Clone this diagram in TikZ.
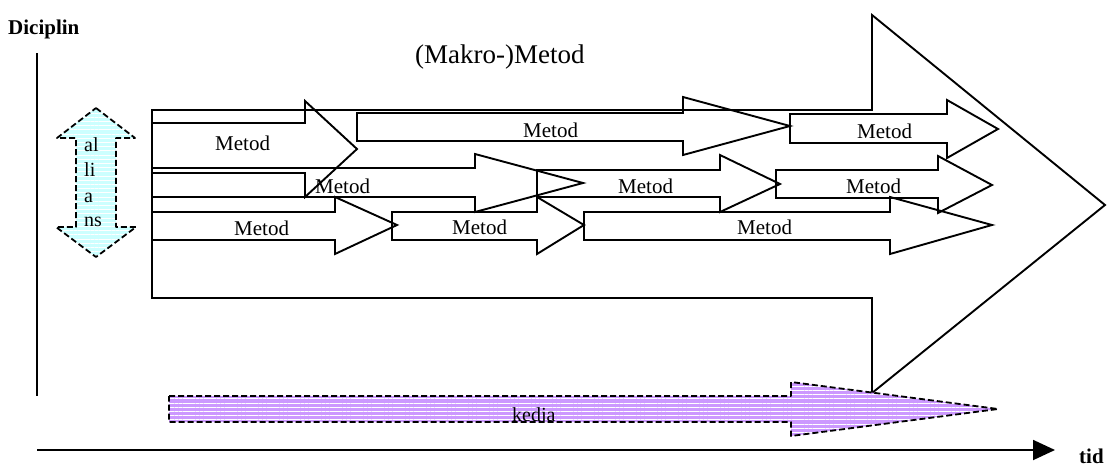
\documentclass[tikz,border=0pt]{standalone}
\usepackage{fontspec}
\setmainfont{Liberation Serif}
\usetikzlibrary{arrows.meta,patterns.meta}
\definecolor{kedjelila}{RGB}{204,153,255}
\definecolor{allianscyan}{RGB}{204,255,255}

% block arrow pointing right:
% left x, shaft top, shaft bottom, head back x, head top, head bottom, tip x, tip y
\newcommand\metodpil[8]{%
  \draw[pilkant] (#1,#2) -- (#4,#2) -- (#4,#5) -- (#7,#8) -- (#4,#6) -- (#4,#3) -- (#1,#3) -- cycle;}

\begin{document}
\begin{tikzpicture}[x=1pt,y=-1pt,
  pilkant/.style={draw=black,line width=1.9pt,line join=miter},
  axel/.style={draw=black,line width=1.9pt},
  streckad/.style={draw=black,line width=1.8pt,dash pattern=on 6pt off 3pt,line join=round},
  randig/.style={pattern={Lines[angle=0,distance=4.2pt,line width=1pt]},pattern color=white},
  etikett/.style={anchor=base west,inner sep=0pt,font=\fontsize{21}{25}\selectfont},
  smaltext/.style={anchor=base west,inner sep=0pt,font=\fontsize{20}{24}\selectfont},
  axeltext/.style={anchor=base west,inner sep=0pt,font=\bfseries\fontsize{21}{25}\selectfont}]
\useasboundingbox (0,0) rectangle (1108,466);

% axes
\coordinate (yaxtop) at (37,53);
\coordinate (yaxbot) at (37,396);
\coordinate (xaxstart) at (37,450);
\coordinate (xaxend) at (1055,450);
\draw[axel] (yaxtop) -- (yaxbot);
\draw[axel,-{Triangle[length=22pt,width=20pt]}] (xaxstart) -- (xaxend);
\node[axeltext] (diciplin) at (8,34) {Diciplin};
\node[axeltext] (tid) at (1079,463) {tid};

% the large (macro) method arrow
\draw[pilkant] (152,110) -- (872,110) -- (872,15) -- (1105,205) -- (872,393) -- (872,298) -- (152,298) -- cycle;
\node[anchor=base west,inner sep=0pt,font=\fontsize{27}{32}\selectfont] (makro) at (415,63) {(Makro-)Metod};

% first row of methods
\metodpil{152}{123}{173}{305}{101}{197}{357}{149}
\metodpil{357}{113}{141}{683}{97}{155}{790}{126}
\metodpil{790}{114}{143}{947}{100}{158}{998}{129}
\node[etikett] (m11) at (215,150) {Metod};
\node[etikett] (m12) at (523,137) {Metod};
\node[etikett] (m13) at (857,138) {Metod};

% second row
\metodpil{152}{168}{197}{475}{154}{212}{583}{183}
\metodpil{537}{170}{197}{720}{155}{212}{780}{184}
\metodpil{776}{170}{198}{938}{156}{213}{992}{185}
\node[etikett] (m21) at (315,193) {Metod};
\node[etikett] (m22) at (618,193) {Metod};
\node[etikett] (m23) at (846,193) {Metod};

% third row
\metodpil{152}{212}{240}{335}{197}{254}{397}{225}
\metodpil{392}{212}{240}{537}{197}{254}{584}{225}
\metodpil{584}{212}{240}{890}{197}{254}{992}{225}
\node[etikett] (m31) at (234,235) {Metod};
\node[etikett] (m32) at (452,234) {Metod};
\node[etikett] (m33) at (737,234) {Metod};

% alliance double arrow
\path[fill=allianscyan] (96,108) -- (135,138) -- (116,138) -- (116,227) -- (136,227) -- (96,257) -- (56,227) -- (76,227) -- (76,138) -- (57,138) -- cycle;
\path[randig] (96,108) -- (135,138) -- (116,138) -- (116,227) -- (136,227) -- (96,257) -- (56,227) -- (76,227) -- (76,138) -- (57,138) -- cycle;
\draw[streckad] (96,108) -- (135,138) -- (116,138) -- (116,227) -- (136,227) -- (96,257) -- (56,227) -- (76,227) -- (76,138) -- (57,138) -- cycle;
\node[smaltext] (al1) at (84,151) {al};
\node[smaltext] (al2) at (84,176) {li};
\node[smaltext] (al3) at (84,202) {a};
\node[smaltext] (al4) at (84,226) {ns};

% chain arrow
\path[fill=kedjelila] (169,396) -- (791,396) -- (791,382) -- (998,409) -- (791,436) -- (791,422) -- (169,422) -- cycle;
\path[randig] (169,396) -- (791,396) -- (791,382) -- (998,409) -- (791,436) -- (791,422) -- (169,422) -- cycle;
\draw[streckad] (169,396) -- (791,396) -- (791,382) -- (998,409) -- (791,436) -- (791,422) -- (169,422) -- cycle;
\begin{scope}
  \clip (170,397) rectangle (790,420);
  \node[anchor=base west,inner sep=0pt,font=\fontsize{20}{24}\selectfont] (kedja) at (512,421) {kedja};
\end{scope}
\end{tikzpicture}
\end{document}
